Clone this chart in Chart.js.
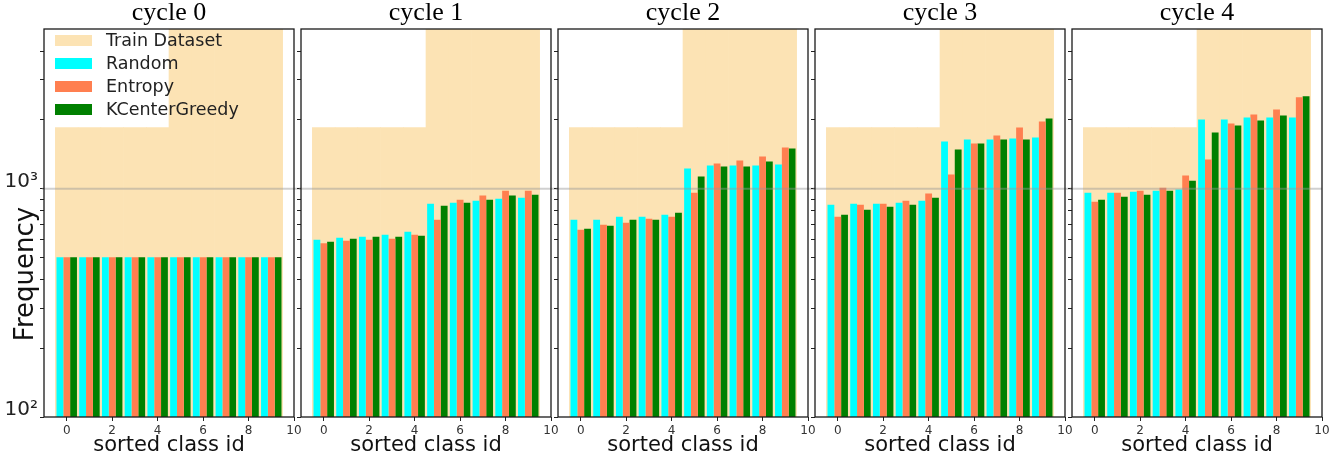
<!DOCTYPE html>
<html>
<head>
<meta charset="utf-8">
<script src="https://cdn.jsdelivr.net/npm/chart.js@4.4.0/dist/chart.umd.min.js"></script>
<style>
  html, body { margin: 0; padding: 0; background: #fff; }
  #wrap { position: relative; width: 1339px; height: 458px; overflow: hidden; }
  #wrap canvas { position: absolute; left: 0; top: 0; }
</style>
</head>
<body>
<div id="wrap"></div>
<script>
// ---- data ----
const classIds = [0, 1, 2, 3, 4, 5, 6, 7, 8, 9];
const cycleTitles = ['cycle 0', 'cycle 1', 'cycle 2', 'cycle 3', 'cycle 4'];
const trainCounts = [1850, 1850, 1850, 1850, 1850, 5000, 5000, 5000, 5000, 5000];

const randomCounts = [
  [500, 500, 500, 500, 500, 500, 500, 500, 500, 500],
  [597, 609, 615, 628, 647, 859, 868, 886, 904, 913],
  [731, 731, 753, 753, 769, 1224, 1262, 1262, 1262, 1275],
  [851, 859, 859, 868, 886, 1608, 1641, 1641, 1658, 1675],
  [960, 960, 970, 980, 990, 2010, 2010, 2050, 2050, 2050]
];
const entropyCounts = [
  [500, 500, 500, 500, 500, 500, 500, 500, 500, 500],
  [577, 591, 597, 603, 628, 731, 895, 932, 980, 980],
  [661, 695, 709, 738, 753, 960, 1288, 1327, 1382, 1514],
  [753, 851, 859, 886, 951, 1152, 1576, 1709, 1853, 1969],
  [877, 960, 980, 1010, 1141, 1341, 1930, 2113, 2223, 2510]
];
const kcenterCounts = [
  [500, 500, 500, 500, 500, 500, 500, 500, 500, 500],
  [585, 603, 615, 615, 622, 842, 868, 895, 932, 941],
  [667, 688, 731, 731, 785, 1129, 1249, 1249, 1314, 1499],
  [769, 809, 834, 851, 913, 1483, 1576, 1641, 1641, 2030],
  [895, 922, 941, 980, 1084, 1762, 1891, 1989, 2092, 2535]
];

const xTicks = [0, 2, 4, 6, 8, 10];
const yTicks = [100, 200, 300, 400, 500, 600, 700, 800, 900, 1000, 2000, 3000, 4000];
const yTickLabels = { 100: '10\u00B2', 1000: '10\u00B3' };

// ---- layout ----
const W = 1339, H = 458;
const panelLeft = [44, 301, 558, 815, 1072];
const panelWidth = 250;
const plotTop = 29;
const yAxisW = 44;
const xAxisH = 41;

const colTrain = 'rgb(252, 227, 180)';
const colRandom = '#00ffff';
const colEntropy = '#ff7f50';
const colKCG = '#008000';

const toPoints = arr => classIds.map((c, i) => ({ x: c, y: arr[i] }));

// frame, 10^3 line, titles, legend, y label
const decor = {
  id: 'decor',
  afterDatasetsDraw(chart, args, opts) {
    const { ctx, chartArea: a, scales: { y } } = chart;
    const yy = y.getPixelForValue(1000);
    ctx.save();
    ctx.strokeStyle = 'rgba(150,150,150,0.45)';
    ctx.lineWidth = 2;
    ctx.beginPath();
    ctx.moveTo(a.left - 2, yy);
    ctx.lineTo(a.right + (opts.last ? 0 : 7), yy);
    ctx.stroke();
    ctx.strokeStyle = '#1a1a1a';
    ctx.lineWidth = 1.3;
    ctx.strokeRect(a.left, a.top, a.right - a.left, a.bottom - a.top);
    ctx.restore();
  },
  afterDraw(chart, args, opts) {
    const { ctx, chartArea: a } = chart;
    ctx.save();
    ctx.fillStyle = '#000';
    ctx.font = '26px "Liberation Serif"';
    ctx.textAlign = 'center';
    ctx.textBaseline = 'alphabetic';
    ctx.fillText(opts.title, (a.left + a.right) / 2, 20);

    if (opts.first) {
      // legend
      ctx.textAlign = 'left';
      ctx.textBaseline = 'middle';
      ctx.font = '17.5px "DejaVu Sans"';
      chart.data.datasets.forEach((ds, i) => {
        const cy = 40.5 + i * 23;
        ctx.fillStyle = ds.backgroundColor;
        ctx.fillRect(a.left + 11, cy - 5.5, 37, 11);
        ctx.fillStyle = '#222';
        ctx.fillText(ds.label, a.left + 62, cy + 0.5);
      });
      // y axis label
      ctx.translate(33, 274);
      ctx.rotate(-Math.PI / 2);
      ctx.textAlign = 'center';
      ctx.textBaseline = 'alphabetic';
      ctx.font = '26px "DejaVu Sans"';
      ctx.fillStyle = '#111';
      ctx.fillText('Frequency', 0, 0);
    }
    ctx.restore();
  }
};

const wrap = document.getElementById('wrap');

cycleTitles.forEach((title, i) => {
  const canvas = document.createElement('canvas');
  canvas.width = W;
  canvas.height = H;
  wrap.appendChild(canvas);

  const left = panelLeft[i];
  new Chart(canvas.getContext('2d'), {
    type: 'bar',
    data: {
      datasets: [
        {
          label: 'Train Dataset',
          data: toPoints(trainCounts),
          backgroundColor: colTrain,
          grouped: false,
          order: 1,
          categoryPercentage: 1,
          barPercentage: 1
        },
        { label: 'Random', data: toPoints(randomCounts[i]), backgroundColor: colRandom },
        { label: 'Entropy', data: toPoints(entropyCounts[i]), backgroundColor: colEntropy },
        { label: 'KCenterGreedy', data: toPoints(kcenterCounts[i]), backgroundColor: colKCG }
      ]
    },
    options: {
      responsive: false,
      animation: false,
      devicePixelRatio: 1,
      categoryPercentage: 0.9,
      barPercentage: 1,
      borderWidth: 0,
      layout: {
        padding: { left: left - yAxisW, right: W - left - panelWidth, top: plotTop, bottom: 0 }
      },
      scales: {
        x: {
          type: 'linear',
          min: -1,
          max: 10,
          offset: false,
          afterBuildTicks: s => { s.ticks = xTicks.map(v => ({ value: v })); },
          afterFit: s => { s.height = xAxisH; },
          border: { display: false },
          grid: { offset: false, drawOnChartArea: false, drawTicks: true, tickLength: 4, tickColor: '#222', tickWidth: 1 },
          ticks: {
            padding: 3,
            color: '#333',
            font: { family: 'DejaVu Sans', size: 12 },
            maxRotation: 0,
            autoSkip: false
          },
          title: {
            display: true,
            text: 'sorted class id',
            color: '#111',
            font: { family: 'DejaVu Sans', size: 21 },
            padding: { top: 0, bottom: 0 }
          }
        },
        y: {
          type: 'logarithmic',
          min: 100,
          max: 5000,
          afterBuildTicks: s => { s.ticks = yTicks.map(v => ({ value: v })); },
          afterFit: s => { s.width = yAxisW; },
          border: { display: false },
          grid: { drawOnChartArea: false, drawTicks: true, tickLength: 4, tickColor: '#222', tickWidth: 1 },
          ticks: {
            display: i === 0,
            autoSkip: false,
            padding: 2,
            labelOffset: -7,
            color: '#222',
            font: { family: 'DejaVu Sans', size: 20 },
            callback: v => yTickLabels[v] || ''
          }
        }
      },
      plugins: {
        legend: { display: false },
        tooltip: { enabled: false },
        decor: { title: title, first: i === 0, last: i === cycleTitles.length - 1 }
      }
    },
    plugins: [decor]
  });
});
</script>
</body>
</html>
